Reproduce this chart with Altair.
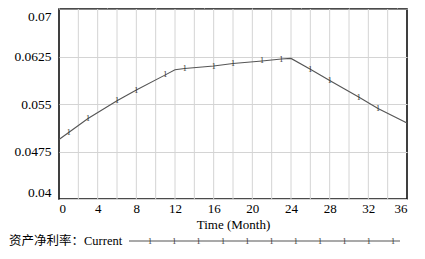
import altair as alt
import pandas as pd

# Series (Time in months, 资产净利率 Current)
months = [0, 1, 3, 6, 8, 11, 12, 13, 16, 18, 21, 23, 24, 26, 28, 31, 33, 36]
values = [0.0494, 0.0505, 0.0527, 0.0555, 0.0572, 0.0596, 0.0604, 0.0606,
          0.0610, 0.0614, 0.0618, 0.0621, 0.0622, 0.0605, 0.0587, 0.0561,
          0.0543, 0.0520]
marker_months = [1, 3, 6, 8, 11, 13, 16, 18, 21, 23, 26, 28, 31, 33]

x_grid = list(range(2, 36, 2))
x_labels = list(range(0, 37, 4))
y_ticks = [0.04, 0.0475, 0.055, 0.0625, 0.07]

legend_title = "资产净利率：Current"
legend_marks = list(range(11))

FONT = "Liberation Serif, Noto Sans CJK SC"
LINE = "#555555"
GRID = "#d4d4d4"

df = pd.DataFrame({"t": months, "v": values})
df["marker"] = df["t"].isin(marker_months)

xs = alt.Scale(domain=[0, 36], nice=False, zero=False)
ys = alt.Scale(domain=[0.04, 0.07], nice=False, zero=False)

base = alt.Chart(df)

vgrid = alt.Chart(pd.DataFrame({"g": x_grid})).mark_rule(
    color=GRID, strokeWidth=1
).encode(x=alt.X("g:Q", scale=xs, axis=None))

line = base.mark_line(color=LINE, strokeWidth=1.1).encode(
    x=alt.X("t:Q", scale=xs,
            axis=alt.Axis(values=x_labels, title="Time (Month)", grid=False,
                          domain=False, ticks=False, labelPadding=3,
                          labelFont=FONT, labelFontSize=13, labelColor="#000",
                          titleFont=FONT, titleFontSize=13, titleFontWeight="normal",
                          titleColor="#000", titlePadding=3)),
    y=alt.Y("v:Q", scale=ys,
            axis=alt.Axis(values=y_ticks, format=".4~f", title=None,
                          grid=True, gridColor=GRID, gridWidth=1,
                          domain=False, ticks=False, labelPadding=8,
                          labelFlush=True,
                          labelFont=FONT, labelFontSize=13.5, labelColor="#000")),
)

marks = base.transform_filter("datum.marker").mark_text(
    text="1", font=FONT, fontSize=8, color="#333333", baseline="middle", dy=0.5
).encode(x=alt.X("t:Q", scale=xs), y=alt.Y("v:Q", scale=ys))

# Legend below the plot
leg_text = alt.Chart(pd.DataFrame({"s": [legend_title]})).mark_text(
    font=FONT, fontSize=12.5, color="#000", align="left", baseline="alphabetic"
).encode(text="s:N", x=alt.value(-50), y=alt.value(236))

leg_line = alt.Chart(pd.DataFrame({"a": [0]})).mark_rule(
    color=LINE, strokeWidth=1.1
).encode(x=alt.value(70), x2=alt.value(341), y=alt.value(232))

leg_marks = alt.Chart(pd.DataFrame({"k": legend_marks})).mark_text(
    text="1", font=FONT, fontSize=8, color="#333333", baseline="middle", dy=0.5
).encode(
    x=alt.X("k:Q", scale=alt.Scale(domain=[0, 10], range=[91, 334]), axis=None),
    y=alt.value(232),
)

chart = alt.layer(vgrid, line, marks, leg_text, leg_line, leg_marks).resolve_scale(
    x="independent"
).properties(
    width=348, height=190,
    padding={"left": 51, "top": 1, "right": 10, "bottom": 48},
    autosize=alt.AutoSizeParams(type="none"),
    background="white",
).configure_view(stroke="#111111", strokeWidth=1.6)

chart.save("out.html", embed_options={"renderer": "svg", "actions": False})
